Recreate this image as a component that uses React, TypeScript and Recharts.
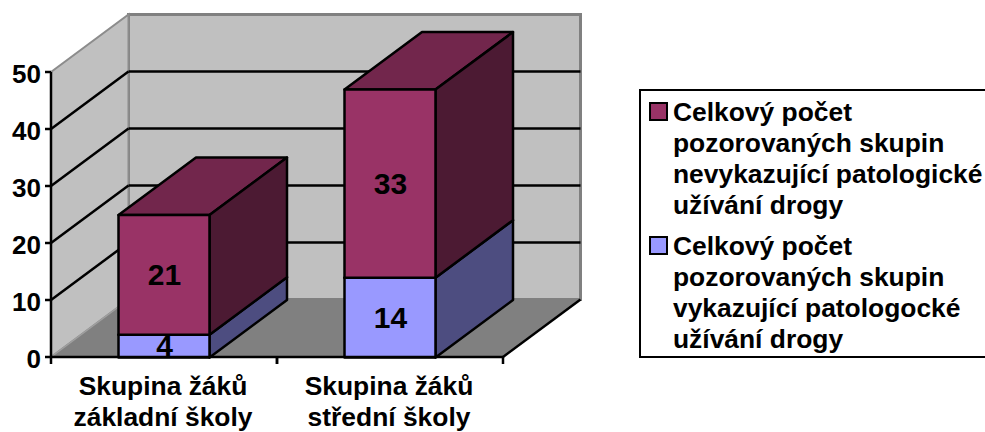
import { Bar, BarChart, CartesianGrid, LabelList, Legend, XAxis, YAxis, usePlotArea } from "recharts";

const categories = ["Skupina žáků\nzákladní školy", "Skupina žáků\nstřední školy"];
const patologicke = [4, 14];
const nepatologicke = [21, 33];
const yTicks = [0, 10, 20, 30, 40, 50];
const legendLabels = [
  ["Celkový počet", "pozorovaných skupin", "nevykazující patologické", "užívání drogy"],
  ["Celkový počet", "pozorovaných skupin", "vykazující patologocké", "užívání drogy"],
];

const data = categories.map((name, i) => ({
  name,
  patologicke: patologicke[i],
  nepatologicke: nepatologicke[i],
}));

const FONT = "'Liberation Sans', Arial, sans-serif";
// 3D depth of the floor, walls and boxes
const DX = 77.5;
const DY = -57.5;

// Floor and the two walls behind the plot area
function Walls() {
  const area = usePlotArea();
  if (!area) return null;
  const l = area.x;
  const r = area.x + area.width;
  const t = area.y;
  const b = area.y + area.height;
  return (
    <g>
      <polygon points={`${l + DX},${t + DY} ${r + DX},${t + DY} ${r + DX},${b + DY} ${l + DX},${b + DY}`} fill="#c0c0c0" stroke="#808080" strokeWidth={3} />
      <polygon points={`${l},${t} ${l + DX},${t + DY} ${l + DX},${b + DY} ${l},${b}`} fill="#c0c0c0" stroke="#8c8c8c" strokeWidth={2} />
      <polygon points={`${l},${b} ${r},${b} ${r + DX},${b + DY} ${l + DX},${b + DY}`} fill="#808080" />
      <line x1={l} y1={b} x2={l + DX} y2={b + DY} stroke="#a0a0a0" strokeWidth={1.5} />
      <line x1={r} y1={b} x2={r + DX} y2={b + DY} stroke="#000" strokeWidth={2.5} />
    </g>
  );
}

// Gridline: runs up the left wall, then along the back wall
function gridLine(props: any) {
  const { x1, x2, y1, index } = props;
  // the 0 and 50 lines are the grey edges of the walls
  if (y1 >= props.y + props.height - 0.5 || y1 <= props.y + 0.5) return <g key={index} />;
  return (
    <g key={index}>
      <line x1={x1} y1={y1} x2={x1 + DX} y2={y1 + DY} stroke="#000" strokeWidth={2.5} />
      <line x1={x1 + DX} y1={y1 + DY} x2={x2 + DX} y2={y1 + DY} stroke="#000" strokeWidth={2.5} />
    </g>
  );
}

function box(side: string, topFace: string) {
  return (props: any) => {
    const { x, y, width, height, fill } = props;
    const r = x + width;
    const b = y + height;
    return (
      <g stroke="#000" strokeWidth={2.5} strokeLinejoin="round" transform="translate(-0.5 0.5)">
        <polygon points={`${x},${y} ${x + DX},${y + DY} ${r + DX},${y + DY} ${r},${y}`} fill={topFace} />
        <polygon points={`${r},${y} ${r + DX},${y + DY} ${r + DX},${b + DY} ${r},${b}`} fill={side} />
        <rect x={x} y={y} width={width} height={height} fill={fill} />
      </g>
    );
  };
}

function CategoryTick(props: any) {
  const { x, y, payload } = props;
  const half = 113;
  const lines = String(payload.value).split("\n");
  return (
    <g>
      <line x1={x - half} y1={y - 8} x2={x - half} y2={y - 1} stroke="#000" strokeWidth={2.5} />
      <line x1={x + half} y1={y - 8} x2={x + half} y2={y - 1} stroke="#000" strokeWidth={2.5} />
      {lines.map((line, i) => (
        <text key={i} x={x - 1} y={y + 30 + i * 31} textAnchor="middle" fontSize={26.4} fontWeight="bold" fontFamily={FONT} fill="#000">
          {line}
        </text>
      ))}
    </g>
  );
}

function LegendBox() {
  const swatches = ["#993366", "#9999ff"];
  return (
    <div style={{ width: 346, height: 269, boxSizing: "border-box", border: "2px solid #000", borderRight: "none", background: "#fff", fontFamily: FONT, fontWeight: "bold", fontSize: 26.4, lineHeight: "31px", color: "#000", padding: "0 0 0 8px", whiteSpace: "nowrap" }}>
      {legendLabels.map((lines, i) => (
        <div key={i} style={{ display: "flex", marginTop: i === 0 ? 6 : 10 }}>
          <span style={{ width: 19, height: 19, boxSizing: "border-box", border: "2px solid #000", background: swatches[i], marginTop: 5, marginRight: 5, flex: "none" }} />
          <div>
            {lines.map((line) => (
              <div key={line}>{line}</div>
            ))}
          </div>
        </div>
      ))}
    </div>
  );
}

export default function App() {
  return (
    <div style={{ position: "absolute", left: 0, top: 0, width: 985, height: 432, overflow: "hidden", background: "#fff" }}>
      <BarChart
        width={985}
        height={432}
        data={data}
        barSize={91}
        margin={{ top: 72, right: 136, bottom: 0, left: 0 }}
        style={{ fontFamily: FONT }}
      >
        <Walls />
        <CartesianGrid vertical={false} horizontal={gridLine} syncWithTicks zIndex={10} />
        <Legend
          layout="vertical"
          align="right"
          verticalAlign="top"
          content={<LegendBox />}
          wrapperStyle={{ left: 639, top: 89, right: "auto", width: 346 }}
        />
        <Bar dataKey="patologicke" stackId="a" fill="#9999ff" isAnimationActive={false} shape={box("#4d4d80", "#4d4d80")}>
          <LabelList dataKey="patologicke" position="center" fill="#000" fontSize={30} fontWeight="bold" fontFamily={FONT} />
        </Bar>
        <Bar dataKey="nepatologicke" stackId="a" fill="#993366" isAnimationActive={false} shape={box("#4c1a33", "#72264c")}>
          <LabelList dataKey="nepatologicke" position="center" fill="#000" fontSize={30} fontWeight="bold" fontFamily={FONT} />
        </Bar>
        <XAxis
          dataKey="name"
          height={75}
          interval={0}
          tickLine={false}
          axisLine={{ stroke: "#000", strokeWidth: 2.5 }}
          tick={<CategoryTick />}
        />
        <YAxis
          width={51}
          domain={[0, 50]}
          ticks={yTicks}
          tickSize={6}
          tickMargin={4}
          axisLine={{ stroke: "#000", strokeWidth: 2.5 }}
          tickLine={{ stroke: "#000", strokeWidth: 2.5 }}
          tick={{ fill: "#000", fontSize: 26, fontWeight: "bold", fontFamily: FONT, dy: 1.5 }}
        />
      </BarChart>
    </div>
  );
}
